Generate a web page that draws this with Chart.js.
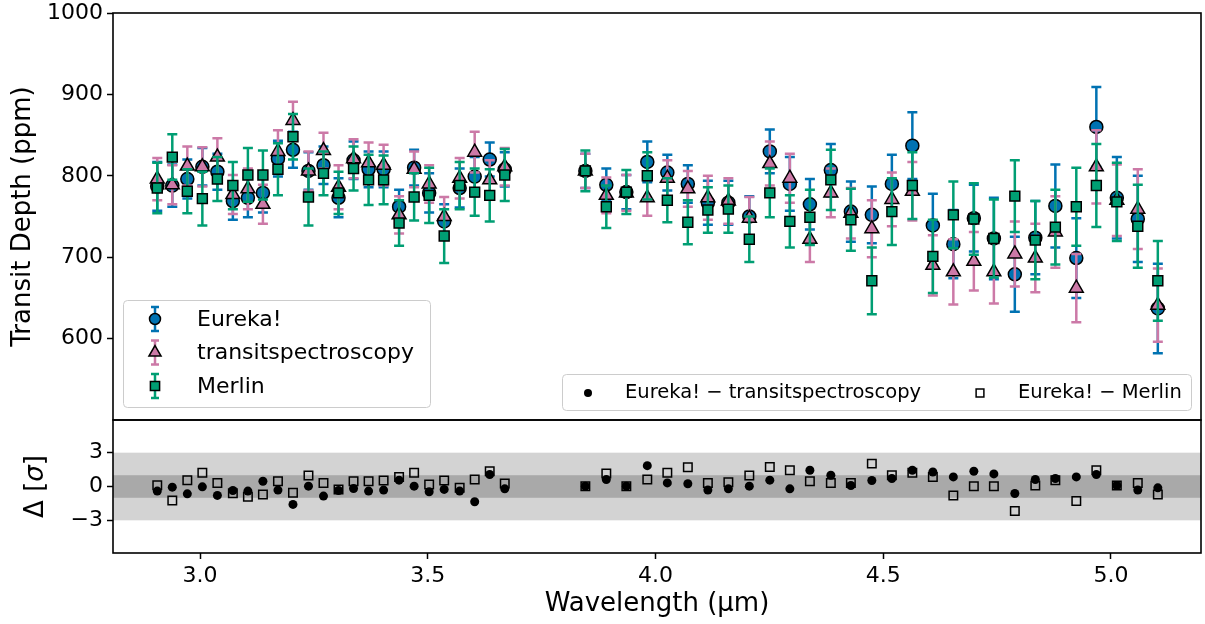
<!DOCTYPE html>
<html lang="en">
<head>
<meta charset="UTF-8">
<title>Transit Depth comparison</title>
<script src="https://cdn.jsdelivr.net/npm/chart.js"></script>
<style>
  body { margin: 0; background: #fff; }
  #wrap { position: relative; width: 1205px; height: 624px; }
  #topChart { position: absolute; left: 0; top: 0; }
  #botChart { position: absolute; left: 0; top: 419px; }
</style>
</head>
<body>
<div id="wrap">
  <canvas id="topChart" width="1205" height="421"></canvas>
  <canvas id="botChart" width="1205" height="205"></canvas>
</div>

<script>
// wavelength bin centres (um)
const wavelength = [
  2.906, 2.939, 2.972, 3.005, 3.038, 3.072, 3.105, 3.138, 3.171, 3.204, 3.238, 3.271,
  3.304, 3.337, 3.370, 3.403, 3.437, 3.470, 3.503, 3.536, 3.570, 3.603, 3.636, 3.669,
  3.846, 3.892, 3.936, 3.982, 4.026, 4.071, 4.115, 4.160, 4.206, 4.251, 4.295, 4.339,
  4.385, 4.429, 4.475, 4.519, 4.564, 4.609, 4.654, 4.699, 4.743, 4.789, 4.834, 4.878,
  4.924, 4.968, 5.013, 5.059, 5.103
];

const eureka = [
  787, 788, 796, 811, 805, 769, 773, 779, 821, 832, 806, 813,
  773, 819, 808, 808, 762, 810, 779, 744, 785, 799, 820, 808,
  806, 789, 780, 817, 804, 790, 767, 767, 750, 830, 790, 765,
  807, 756, 752, 790, 837, 739, 716, 748, 723, 679, 724, 763,
  699, 860, 773, 747, 637
];
const eurekaErr = [
  30, 26, 24, 23, 22, 23, 24, 24, 22, 22, 23, 23,
  24, 23, 22, 22, 21, 22, 24, 21, 24, 24, 21, 21,
  21, 20, 21, 25, 22, 23, 27, 27, 25, 27, 33, 31,
  32, 37, 35, 36, 41, 39, 42, 41, 50, 46, 45, 51,
  49, 49, 50, 53, 55
];

const tspec = [
  796, 789, 812, 811, 823, 777, 784, 765, 830, 868, 806, 831,
  786, 821, 816, 813, 752, 808, 790, 750, 797, 829, 795, 811,
  806, 776, 779, 773, 797, 784, 773, 769, 748, 815, 797, 722,
  779, 754, 735, 771, 781, 690, 682, 695, 682, 704, 699, 731,
  662, 811, 770, 759, 641
];
const tspecErr = [
  26, 24, 24, 24, 23, 24, 25, 24, 26, 23, 24, 22,
  27, 24, 25, 25, 23, 22, 23, 24, 25, 25, 24, 23,
  21, 22, 22, 22, 22, 22, 27, 28, 26, 27, 30, 28,
  30, 31, 35, 33, 36, 37, 40, 36, 39, 40, 42, 44,
  42, 45, 44, 49, 45
];

const merlin = [
  785, 823, 781, 772, 796, 788, 801, 801, 808, 848, 774, 803,
  779, 809, 795, 795, 742, 774, 776, 726, 788, 780, 776, 801,
  806, 762, 780, 800, 770, 743, 758, 759, 722, 779, 744, 749,
  795, 746, 671, 756, 788, 701, 752, 747, 723, 775, 721, 737,
  762, 788, 768, 738, 671
];
const merlinErr = [
  31, 28, 27, 33, 27, 29, 33, 30, 32, 28, 35, 27,
  26, 27, 31, 30, 28, 29, 34, 33, 29, 29, 32, 32,
  25, 26, 27, 29, 27, 27, 28, 29, 28, 30, 32, 34,
  37, 38, 41, 41, 41, 45, 41, 44, 48, 44, 48, 46,
  48, 51, 48, 51, 49
];

// residuals in units of sigma (lower panel)
const diffTspec = [
  -0.41, -0.06, -0.65, -0.03, -0.79, -0.35, -0.41, 0.47, -0.32, -1.59, 0.03, -0.85,
  -0.35, -0.18, -0.41, -0.32, 0.56, 0.03, -0.47, -0.26, -0.41, -1.35, 1.06, -0.21,
  0.03, 0.62, 0.03, 1.85, 0.32, 0.24, -0.32, -0.21, 0.03, 0.56, -0.21, 1.44,
  1.0, 0.09, 0.53, 0.71, 1.44, 1.29, 0.85, 1.35, 1.12, -0.62, 0.62, 0.71,
  0.85, 1.06, 0.09, -0.32, -0.12
];
const diffMerlin = [
  0.12, -1.24, 0.56, 1.21, 0.32, -0.6, -0.91, -0.71, 0.47, -0.56, 0.97, 0.32,
  -0.26, 0.47, 0.47, 0.53, 0.85, 1.21, 0.18, 0.53, -0.12, 0.62, 1.35, 0.26,
  0.03, 1.15, 0.03, 0.62, 1.21, 1.71, 0.32, 0.38, 0.97, 1.74, 1.44, 0.47,
  0.32, 0.32, 2.03, 1.0, 1.21, 0.85, -0.79, 0.03, 0.03, -2.18, 0.09, 0.56,
  -1.29, 1.44, 0.09, 0.32, -0.71
];

const waveTicks = [3.0, 3.5, 4.0, 4.5, 5.0];
const depthTicks = [600, 700, 800, 900, 1000];
const sigmaTicks = [-3, 0, 3];
const seriesNames = ['Eureka!', 'transitspectroscopy', 'Merlin'];
const diffNames = ['Eureka! \u2212 transitspectroscopy', 'Eureka! \u2212 Merlin'];

const BLUE = '#0072B2', PINK = '#CC79A7', GREEN = '#009E73';
const FONT = "'DejaVu Sans', sans-serif";

Chart.defaults.font.family = FONT;
Chart.defaults.color = '#000';

function pts(ys) {
  return wavelength.map((x, i) => ({ x: x, y: ys[i] }));
}

// draws the vertical error bars of a dataset just before its markers
const errorBars = {
  id: 'errorBars',
  beforeDatasetDraw(chart, args) {
    const ds = chart.data.datasets[args.index];
    if (!ds.errors) return;
    const ctx = chart.ctx, xs = chart.scales.x, ys = chart.scales.y;
    ctx.save();
    ctx.strokeStyle = ds.errColor;
    ctx.lineWidth = 2.5;
    ds.data.forEach((p, i) => {
      const px = xs.getPixelForValue(p.x);
      const yt = ys.getPixelForValue(p.y + ds.errors[i]);
      const yb = ys.getPixelForValue(p.y - ds.errors[i]);
      ctx.beginPath();
      ctx.moveTo(px, yt); ctx.lineTo(px, yb);
      ctx.moveTo(px - 5, yt); ctx.lineTo(px + 5, yt);
      ctx.moveTo(px - 5, yb); ctx.lineTo(px + 5, yb);
      ctx.stroke();
    });
    ctx.restore();
  }
};

const frame = {
  id: 'frame',
  afterDraw(chart) {
    const a = chart.chartArea, ctx = chart.ctx;
    ctx.save();
    ctx.strokeStyle = '#000';
    ctx.lineWidth = 1.6;
    ctx.strokeRect(a.left, a.top, a.right - a.left, a.bottom - a.top);
    ctx.restore();
  }
};

const sigmaBands = {
  id: 'sigmaBands',
  beforeDatasetsDraw(chart) {
    const a = chart.chartArea, ctx = chart.ctx, ys = chart.scales.y;
    ctx.save();
    ctx.fillStyle = '#d3d3d3';
    ctx.fillRect(a.left, ys.getPixelForValue(3), a.right - a.left,
      ys.getPixelForValue(-3) - ys.getPixelForValue(3));
    ctx.fillStyle = '#a9a9a9';
    ctx.fillRect(a.left, ys.getPixelForValue(1), a.right - a.left,
      ys.getPixelForValue(-1) - ys.getPixelForValue(1));
    ctx.restore();
  }
};

// "Δ [σ]" label with an italic sigma, like matplotlib mathtext
const deltaLabel = {
  id: 'deltaLabel',
  afterDraw(chart) {
    const ctx = chart.ctx, ys = chart.scales.y;
    const parts = [['\u0394 [', ''], ['\u03c3', 'italic '], [']', '']];
    ctx.save();
    ctx.translate(36, ys.getPixelForValue(0));
    ctx.rotate(-Math.PI / 2);
    ctx.textBaseline = 'middle';
    ctx.fillStyle = '#000';
    let total = 0;
    parts.forEach(p => { ctx.font = p[1] + '26px ' + FONT; total += ctx.measureText(p[0]).width; });
    let x = -total / 2;
    parts.forEach(p => {
      ctx.font = p[1] + '26px ' + FONT;
      ctx.fillText(p[0], x, 0);
      x += ctx.measureText(p[0]).width;
    });
    ctx.restore();
  }
};

function marker(ctx, style, x, y, r, fill, stroke) {
  ctx.beginPath();
  if (style === 'circle') {
    ctx.arc(x, y, r, 0, Math.PI * 2);
  } else if (style === 'triangle') {
    ctx.moveTo(x, y - r);
    ctx.lineTo(x + r * 0.866, y + r * 0.5);
    ctx.lineTo(x - r * 0.866, y + r * 0.5);
    ctx.closePath();
  } else {
    const s = r * 0.707;
    ctx.rect(x - s, y - s, 2 * s, 2 * s);
  }
  if (fill) { ctx.fillStyle = fill; ctx.fill(); }
  if (stroke) { ctx.strokeStyle = stroke; ctx.lineWidth = 1.5; ctx.stroke(); }
}

function legendBox(ctx, x, y, w, h) {
  ctx.beginPath();
  if (ctx.roundRect) ctx.roundRect(x, y, w, h, 4); else ctx.rect(x, y, w, h);
  ctx.fillStyle = 'rgba(255,255,255,0.8)';
  ctx.fill();
  ctx.strokeStyle = '#cccccc';
  ctx.lineWidth = 1;
  ctx.stroke();
}

const legends = {
  id: 'legends',
  afterDraw(chart) {
    const ctx = chart.ctx;
    ctx.save();
    // series legend
    legendBox(ctx, 123.5, 300.5, 307, 107);
    const cols = [BLUE, PINK, GREEN];
    const styles = ['circle', 'triangle', 'rect'];
    const rad = [5.5, 7, 6.5];
    ctx.font = '22px ' + FONT;
    ctx.textBaseline = 'middle';
    seriesNames.forEach((name, i) => {
      const ly = 319 + i * 33.5, lx = 155;
      ctx.strokeStyle = cols[i];
      ctx.lineWidth = 2.5;
      ctx.beginPath();
      ctx.moveTo(lx, ly - 12); ctx.lineTo(lx, ly + 12);
      ctx.moveTo(lx - 4, ly - 12); ctx.lineTo(lx + 4, ly - 12);
      ctx.moveTo(lx - 4, ly + 12); ctx.lineTo(lx + 4, ly + 12);
      ctx.stroke();
      marker(ctx, styles[i], lx, ly, rad[i], cols[i], '#000');
      ctx.fillStyle = '#000';
      ctx.fillText(name, 197, ly + 1);
    });
    // residual legend
    legendBox(ctx, 562.5, 374.5, 629, 36);
    ctx.font = '19.5px ' + FONT;
    marker(ctx, 'circle', 588, 393, 4, '#000', null);
    ctx.fillStyle = '#000';
    ctx.fillText(diffNames[0], 625, 393);
    marker(ctx, 'rect', 980, 393, 5.5, null, '#000');
    ctx.fillStyle = '#000';
    ctx.fillText(diffNames[1], 1018, 393);
    ctx.restore();
  }
};

function fixY(width) {
  return function (s) { s.width = width; s.paddingTop = 0; s.paddingBottom = 0; };
}

const xRange = { min: 2.8088, max: 5.1978 };

new Chart(document.getElementById('topChart'), {
  type: 'scatter',
  data: {
    datasets: [
      { label: seriesNames[0], data: pts(eureka), errors: eurekaErr, errColor: BLUE,
        pointStyle: 'circle', pointRadius: 6.5, backgroundColor: BLUE,
        borderColor: '#000', borderWidth: 1.5, order: 3 },
      { label: seriesNames[1], data: pts(tspec), errors: tspecErr, errColor: PINK,
        pointStyle: 'triangle', pointRadius: 8, backgroundColor: PINK,
        borderColor: '#000', borderWidth: 1.5, order: 2 },
      { label: seriesNames[2], data: pts(merlin), errors: merlinErr, errColor: GREEN,
        pointStyle: 'rect', pointRadius: 7, backgroundColor: GREEN,
        borderColor: '#000', borderWidth: 1.5, order: 1 }
    ]
  },
  options: {
    responsive: false,
    animation: false,
    layout: { autoPadding: false, padding: { left: 0, right: 4, top: 13, bottom: 1 } },
    plugins: { legend: { display: false }, tooltip: { enabled: false } },
    scales: {
      x: { type: 'linear', display: false, min: xRange.min, max: xRange.max },
      y: {
        min: 500, max: 1000,
        afterBuildTicks: s => { s.ticks = depthTicks.map(v => ({ value: v })); },
        afterFit: fixY(113),
        grid: { drawOnChartArea: false, tickLength: 6, tickColor: '#000', tickWidth: 1.5 },
        border: { display: false },
        ticks: { font: { size: 22, lineHeight: 0.1 }, padding: 4, color: '#000',
                 callback: v => String(v) },
        title: { display: true, text: 'Transit Depth (ppm)', font: { size: 26 },
                 padding: { top: 8, bottom: 0 }, color: '#000' }
      }
    }
  },
  plugins: [errorBars, frame, legends]
});

new Chart(document.getElementById('botChart'), {
  type: 'scatter',
  data: {
    datasets: [
      { label: diffNames[0], data: pts(diffTspec), pointStyle: 'circle', pointRadius: 4.5,
        backgroundColor: '#000', borderColor: '#000', borderWidth: 0, order: 2 },
      { label: diffNames[1], data: pts(diffMerlin), pointStyle: 'rect', pointRadius: 6,
        backgroundColor: 'rgba(0,0,0,0)', borderColor: '#000', borderWidth: 1.5, order: 1 }
    ]
  },
  options: {
    responsive: false,
    animation: false,
    layout: { autoPadding: false, padding: { left: 0, right: 4, top: 1, bottom: 0 } },
    plugins: { legend: { display: false }, tooltip: { enabled: false } },
    scales: {
      x: {
        type: 'linear', min: xRange.min, max: xRange.max,
        afterBuildTicks: s => { s.ticks = waveTicks.map(v => ({ value: v })); },
        afterFit: s => { s.height = 71; s.paddingLeft = 0; s.paddingRight = 0; },
        grid: { drawOnChartArea: false, tickLength: 6, tickColor: '#000', tickWidth: 1.5 },
        border: { display: false },
        ticks: { font: { size: 22 }, padding: 4, maxRotation: 0, color: '#000',
                 callback: v => Number(v).toFixed(1) },
        title: { display: true, text: 'Wavelength (\u00b5m)', font: { size: 26 },
                 padding: { top: 0, bottom: 4 }, color: '#000' }
      },
      y: {
        min: -5.9, max: 5.9,
        afterBuildTicks: s => { s.ticks = sigmaTicks.map(v => ({ value: v })); },
        afterFit: fixY(113),
        grid: { drawOnChartArea: false, tickLength: 6, tickColor: '#000', tickWidth: 1.5 },
        border: { display: false },
        ticks: { font: { size: 22, lineHeight: 0.1 }, padding: 4, color: '#000',
                 callback: v => v < 0 ? '\u2212' + Math.abs(v) : String(v) }
      }
    }
  },
  plugins: [sigmaBands, frame, deltaLabel]
});
</script>
</body>
</html>
